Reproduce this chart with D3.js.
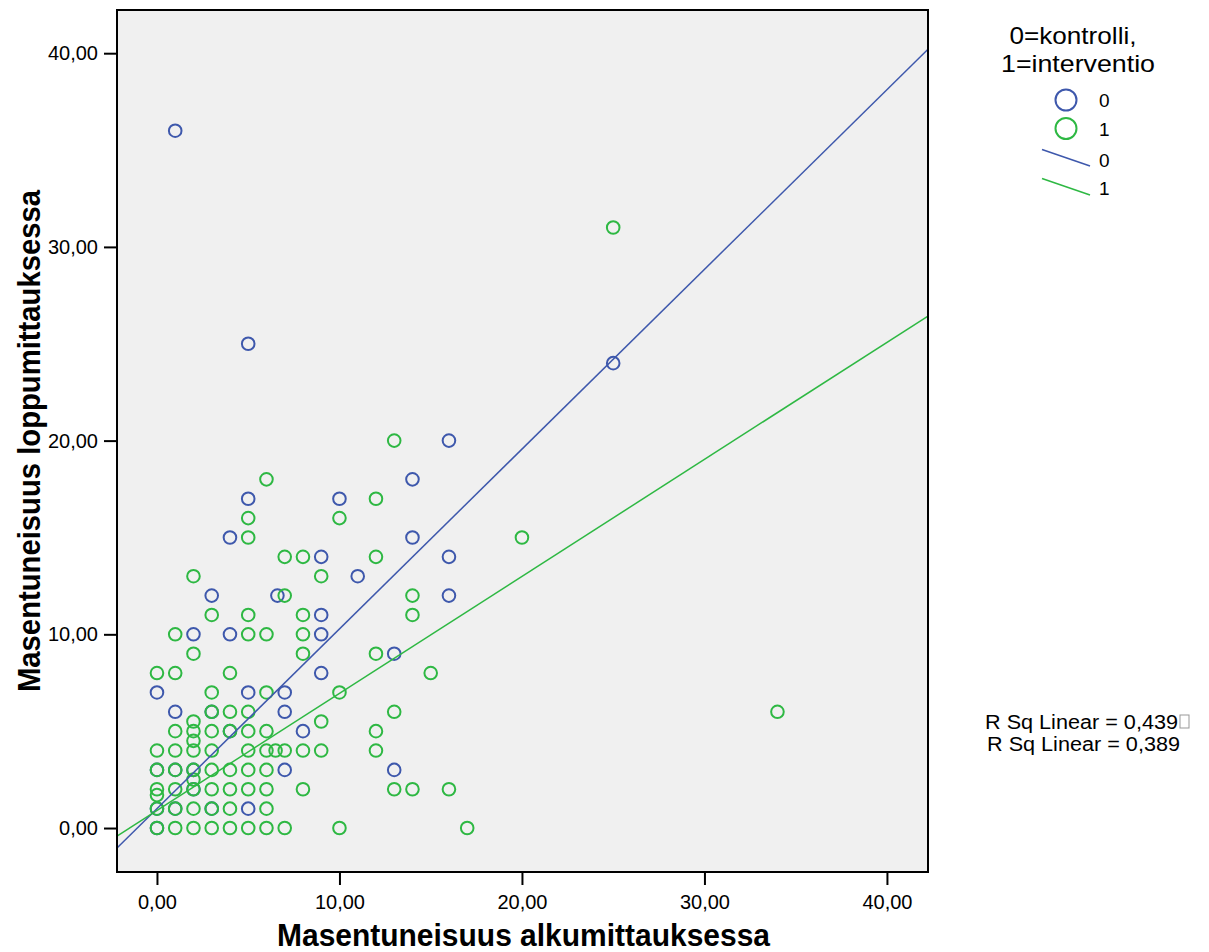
<!DOCTYPE html>
<html>
<head>
<meta charset="utf-8">
<script src="https://d3js.org/d3.v7.min.js"></script>
<style>
  body { margin: 0; background: #fff; }
  text { font-family: "Liberation Sans", Arial, sans-serif; fill: #000; }
</style>
</head>
<body>
<div id="target"></div>
<script>
// group 0 = kontrolli (blue)
var blueX = [1, 5, 25, 16, 14, 5, 10, 4, 14, 9, 16, 11, 3, 6.6, 16, 9, 2, 4, 9, 13, 9, 0, 5, 7, 1, 7, 8, 7, 13, 5,
             0, 0, 1, 2, 3, 1, 3, 0, 2, 4];
var blueY = [36, 25, 24, 20, 18, 17, 17, 15, 15, 14, 14, 13, 12, 12, 12, 11, 10, 10, 10, 9, 8, 7, 7, 7, 6, 6, 5, 3, 3, 1,
             0, 1, 1, 3, 1, 3, 6, 3, 2, 5];
// group 1 = interventio (green)
var greenX = [25, 20, 34, 13, 6, 12, 5, 10, 5, 7, 8, 12, 2, 9, 7, 14, 3, 5, 8, 14, 1, 5, 6, 8, 2, 8, 12,
              0, 1, 4, 15, 3, 6, 10, 3, 4, 5, 13, 2, 9, 1, 2, 3, 4, 5, 6, 12, 2,
              0, 1, 2, 3, 5, 6, 6.5, 7, 8, 9, 12, 0, 1, 2, 3, 4, 5, 6, 2,
              0, 0, 1, 2, 3, 4, 5, 6, 8, 13, 14, 16, 0, 1, 2, 3, 4, 6,
              0, 1, 2, 3, 4, 5, 6, 7, 10, 17];
var greenY = [31, 15, 6, 20, 18, 17, 16, 16, 15, 14, 14, 14, 13, 13, 12, 12, 11, 11, 11, 11, 10, 10, 10, 10, 9, 9, 9,
              8, 8, 8, 8, 7, 7, 7, 6, 6, 6, 6, 5.5, 5.5, 5, 5, 5, 5, 5, 5, 5, 4.5,
              4, 4, 4, 4, 4, 4, 4, 4, 4, 4, 4, 3, 3, 3, 3, 3, 3, 3, 2.5,
              2, 1.7, 2, 2, 2, 2, 2, 2, 2, 2, 2, 2, 1, 1, 1, 1, 1, 1,
              0, 0, 0, 0, 0, 0, 0, 0, 0, 0];
// fit lines: [intercept, slope]
var fitBlue = [1.00, 0.928];
var fitGreen = [0.91, 0.604];
var tickValues = [0, 10, 20, 30, 40];
var groupLabels = ["0", "1"];
var rsqLabels = ["R Sq Linear = 0,439", "R Sq Linear = 0,389"];

var blue = "#3e58ac", green = "#2eb843";

var svg = d3.select('#target').append('svg')
    .attr('width', 1209).attr('height', 952);

var pLeft = 117, pRight = 928, pTop = 10, pBottom = 872;

var x = d3.scaleLinear().domain([-2.19, 42.25]).range([pLeft, pRight]);
var y = d3.scaleLinear().domain([-2.27, 42.23]).range([pBottom, pTop]);

svg.append('defs').append('clipPath').attr('id', 'plotclip')
    .append('rect').attr('x', pLeft).attr('y', pTop)
    .attr('width', pRight - pLeft).attr('height', pBottom - pTop);

svg.append('rect')
    .attr('x', pLeft).attr('y', pTop)
    .attr('width', pRight - pLeft).attr('height', pBottom - pTop)
    .attr('fill', '#f0f0f0');

var fmt = function(d) { return d.toFixed(2).replace('.', ','); };

var yAxis = svg.append('g')
    .attr('transform', 'translate(' + pLeft + ',0)')
    .call(d3.axisLeft(y).tickValues(tickValues).tickFormat(fmt).tickSize(13).tickPadding(6));
var xAxis = svg.append('g')
    .attr('transform', 'translate(0,' + pBottom + ')')
    .call(d3.axisBottom(x).tickValues(tickValues).tickFormat(fmt).tickSize(13).tickPadding(10));
[xAxis, yAxis].forEach(function(a) {
    a.select('.domain').remove();
    a.selectAll('line').attr('stroke', '#000').attr('stroke-width', 2);
    a.selectAll('text').attr('font-size', 20).attr('font-family', '"Liberation Sans", Arial, sans-serif').attr('fill', '#000');
});

var plot = svg.append('g').attr('clip-path', 'url(#plotclip)');

function drawPoints(xs, ys, color) {
    plot.append('g').selectAll('circle')
        .data(xs.map(function(d, i) { return [d, ys[i]]; }))
        .enter().append('circle')
        .attr('cx', function(d) { return x(d[0]); })
        .attr('cy', function(d) { return y(d[1]); })
        .attr('r', 6.3)
        .attr('fill', 'none')
        .attr('stroke', color)
        .attr('stroke-width', 2);
}
drawPoints(blueX, blueY, blue);
drawPoints(greenX, greenY, green);

function drawFit(fit, color) {
    var xd = x.domain();
    plot.append('line')
        .attr('x1', x(xd[0])).attr('y1', y(fit[0] + fit[1] * xd[0]))
        .attr('x2', x(xd[1])).attr('y2', y(fit[0] + fit[1] * xd[1]))
        .attr('stroke', color).attr('stroke-width', 1.5);
}
drawFit(fitBlue, blue);
drawFit(fitGreen, green);

// frame
svg.append('rect')
    .attr('x', pLeft).attr('y', pTop)
    .attr('width', pRight - pLeft).attr('height', pBottom - pTop)
    .attr('fill', 'none').attr('stroke', '#000').attr('stroke-width', 2);

// axis titles
svg.append('text')
    .attr('x', (pLeft + pRight) / 2 + 1).attr('y', 946)
    .attr('text-anchor', 'middle')
    .attr('font-size', 31).attr('font-weight', 'bold')
    .attr('textLength', 493).attr('lengthAdjust', 'spacingAndGlyphs')
    .text('Masentuneisuus alkumittauksessa');
svg.append('text')
    .attr('transform', 'translate(40,441) rotate(-90)')
    .attr('text-anchor', 'middle')
    .attr('font-size', 31).attr('font-weight', 'bold')
    .attr('textLength', 502).attr('lengthAdjust', 'spacingAndGlyphs')
    .text('Masentuneisuus loppumittauksessa');

// legend
var legend = svg.append('g');
legend.append('text').attr('x', 1073).attr('y', 44).attr('text-anchor', 'middle')
    .attr('font-size', 24).attr('textLength', 127).attr('lengthAdjust', 'spacingAndGlyphs')
    .text('0=kontrolli,');
legend.append('text').attr('x', 1078).attr('y', 72).attr('text-anchor', 'middle')
    .attr('font-size', 24).attr('textLength', 154).attr('lengthAdjust', 'spacingAndGlyphs')
    .text('1=interventio');

var colors = [blue, green];
groupLabels.forEach(function(lab, i) {
    legend.append('circle').attr('cx', 1066).attr('cy', 100 + i * 28.5).attr('r', 10.5)
        .attr('fill', 'none').attr('stroke', colors[i]).attr('stroke-width', 2);
    legend.append('text').attr('x', 1099).attr('y', 100 + i * 28.5 + 7)
        .attr('font-size', 19).text(lab);
    legend.append('line')
        .attr('x1', 1042).attr('y1', 149.5 + i * 29)
        .attr('x2', 1090).attr('y2', 166 + i * 29)
        .attr('stroke', colors[i]).attr('stroke-width', 1.5);
    legend.append('text').attr('x', 1099).attr('y', 160 + i * 28 + 7)
        .attr('font-size', 19).text(lab);
});

// R Sq labels
rsqLabels.forEach(function(t, i) {
    svg.append('text').attr('x', 985 + i * 2).attr('y', 729 + i * 22)
        .attr('font-size', 20).attr('textLength', 193).attr('lengthAdjust', 'spacingAndGlyphs')
        .text(t);
});
svg.append('rect').attr('x', 1180).attr('y', 715).attr('width', 9).attr('height', 13)
    .attr('fill', 'none').attr('stroke', '#999').attr('stroke-width', 1);
</script>
</body>
</html>
